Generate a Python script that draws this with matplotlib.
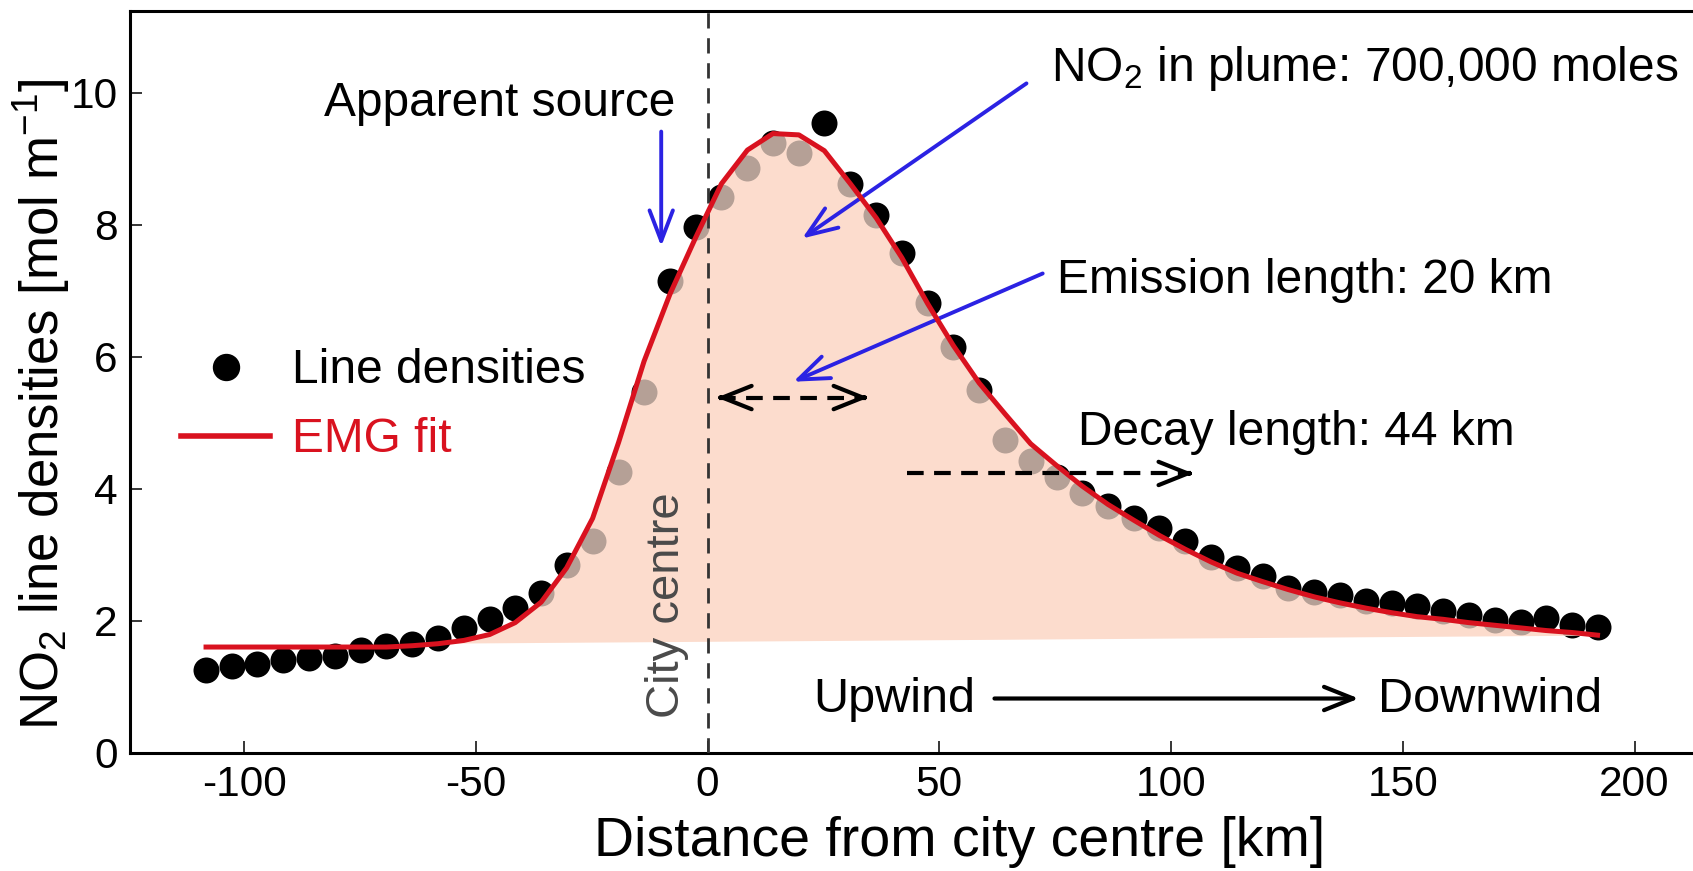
import numpy as np
import matplotlib
matplotlib.use('Agg')
import matplotlib.pyplot as plt
from matplotlib.lines import Line2D

plt.rcParams['font.family'] = ['Liberation Sans', 'DejaVu Sans']
plt.rcParams['mathtext.fontset'] = 'custom'
plt.rcParams['mathtext.rm'] = 'Liberation Sans'
plt.rcParams['mathtext.it'] = 'Liberation Sans:italic'
plt.rcParams['mathtext.bf'] = 'Liberation Sans:bold'

# distance along wind direction (km)
distance_km = [-108.2, -102.6, -97.1, -91.5, -86.0, -80.4, -74.8, -69.3, -63.7, -58.2,
               -52.6, -47.0, -41.5, -35.9, -30.4, -24.8, -19.2, -13.7, -8.1, -2.6,
               3.0, 8.6, 14.1, 19.7, 25.2, 30.8, 36.4, 41.9, 47.5, 53.0,
               58.6, 64.2, 69.7, 75.3, 80.8, 86.4, 92.0, 97.5, 103.1, 108.6,
               114.2, 119.8, 125.3, 130.9, 136.4, 142.0, 147.6, 153.1, 158.7, 164.2,
               169.8, 175.4, 180.9, 186.5, 192.0]

# observed NO2 line densities (mol/m)
line_density = [1.25, 1.31, 1.35, 1.41, 1.43, 1.46, 1.55, 1.62, 1.65, 1.73,
                1.89, 2.02, 2.19, 2.42, 2.85, 3.20, 4.25, 5.46, 7.14, 7.97,
                8.42, 8.86, 9.23, 9.08, 9.54, 8.62, 8.15, 7.57, 6.82, 6.14,
                5.50, 4.74, 4.42, 4.18, 3.93, 3.73, 3.55, 3.40, 3.20, 2.97,
                2.79, 2.68, 2.49, 2.44, 2.39, 2.29, 2.26, 2.22, 2.14, 2.09,
                2.01, 1.98, 2.04, 1.93, 1.90]

# EMG fit
emg_fit = [1.60, 1.60, 1.60, 1.60, 1.60, 1.60, 1.60, 1.60, 1.62, 1.65,
           1.70, 1.79, 1.97, 2.28, 2.80, 3.55, 4.70, 5.93, 6.95, 7.80,
           8.62, 9.13, 9.38, 9.36, 9.12, 8.62, 8.10, 7.50, 6.80, 6.17,
           5.60, 5.13, 4.68, 4.35, 4.04, 3.76, 3.52, 3.29, 3.08, 2.89,
           2.72, 2.59, 2.47, 2.36, 2.27, 2.19, 2.12, 2.06, 2.02, 1.97,
           1.93, 1.89, 1.85, 1.82, 1.78]

# linear background under the plume
background_km = [-55, 192]
background_val = [1.66, 1.78]

x_ticks = [-100, -50, 0, 50, 100, 150, 200]
y_ticks = [0, 2, 4, 6, 8, 10]

RED = '#d9121f'
BLUE = '#2b22e3'
PINK = '#fcdccd'
SHADOW = '#b5a096'

fig = plt.figure(figsize=(16.93, 8.71), dpi=100)
ax = fig.add_axes([0.0768, 0.1359, 0.9232, 0.8517])

x = np.array(distance_km)
fit = np.array(emg_fit)
base = np.interp(x, background_km, background_val)

ax.scatter(x, line_density, s=350, color='black', linewidths=0, zorder=2)
fill = ax.fill_between(x, base, fit, where=fit >= base, interpolate=True,
                       color=PINK, lw=0, zorder=3)
clip = max(fill.get_paths(), key=lambda p: len(p.vertices))
shadow = ax.scatter(x, line_density, s=350, color=SHADOW, linewidths=0, zorder=4)
shadow.set_clip_path(clip, ax.transData)
ax.plot(x, fit, color=RED, lw=3.6, zorder=6, solid_joinstyle='round')
ax.axvline(0, color='#333333', lw=2, dashes=(5.5, 3.5), zorder=5)

# legend
handles = [Line2D([], [], ls='none', marker='o', ms=18.7, color='black'),
           Line2D([], [], color=RED, lw=4)]
ax.legend(handles, ['Line densities', 'EMG fit'], loc='center left',
          bbox_to_anchor=(0.0326, 0.468), frameon=False, fontsize=34.5,
          handlelength=1.86, handletextpad=0.45, labelspacing=0.5,
          borderpad=0, borderaxespad=0, labelcolor=['black', RED])

# blue arrows
blue_head = '->,head_length=1.1,head_width=0.42'
blue_props = dict(arrowstyle=blue_head, color=BLUE, lw=2.8,
                  mutation_scale=20, shrinkA=0, shrinkB=0)
ax.annotate('', xy=(-10.0, 7.67), xytext=(-10.0, 9.41), arrowprops=blue_props)
ax.annotate('', xy=(20.4, 7.79), xytext=(68.8, 10.14), arrowprops=blue_props)
ax.annotate('', xy=(18.5, 5.62), xytext=(72.3, 7.26), arrowprops=blue_props)

black_head = '->,head_length=1.05,head_width=0.42'


def head(tip, towards):
    ax.annotate('', xy=tip, xytext=towards,
                arrowprops=dict(arrowstyle=black_head, color='black', lw=3,
                                mutation_scale=20, shrinkA=0, shrinkB=0),
                zorder=7)


# emission length double arrow
ax.plot([2.5, 34.2], [5.38, 5.38], color='black', lw=3, dashes=(4, 2.5), zorder=7)
head((2.0, 5.38), (3.0, 5.38))
head((34.7, 5.38), (33.7, 5.38))

# decay length arrow
ax.plot([43.0, 104.3], [4.23, 4.23], color='black', lw=3, dashes=(4, 2.5), zorder=7)
head((104.8, 4.23), (103.8, 4.23))

# wind direction
ax.annotate('', xy=(140.5, 0.82), xytext=(61.9, 0.82),
            arrowprops=dict(arrowstyle=black_head, color='black', lw=3,
                            mutation_scale=20, shrinkA=0, shrinkB=0))

ax.text(-82.7, 9.64, 'Apparent source', fontsize=34.5, va='baseline')
ax.text(74.0, 10.17, r'NO$_2$ in plume: 700,000 moles', fontsize=34.5, va='baseline')
ax.text(75.3, 6.96, 'Emission length: 20 km', fontsize=34.5, va='baseline')
ax.text(79.9, 4.66, 'Decay length: 44 km', fontsize=34.5, va='baseline')
ax.text(22.7, 0.62, 'Upwind', fontsize=35, va='baseline')
ax.text(144.6, 0.62, 'Downwind', fontsize=35, va='baseline')
ax.text(-8.8, 2.24, 'City centre', rotation=90, ha='center', va='center',
        color='#4a4a4a', fontsize=34, zorder=7)

ax.set_xlim(-124.6, 212.6)
ax.set_ylim(0, 11.24)
ax.set_xticks(x_ticks)
ax.set_xticklabels([str(t) for t in x_ticks])
ax.set_yticks(y_ticks)
ax.tick_params(direction='in', length=8.5, width=1.1, labelsize=30.5, pad=9,
               top=False, right=False)
for side in ['left', 'bottom', 'top']:
    ax.spines[side].set_linewidth(2.2)
ax.spines['right'].set_visible(False)

ax.set_xlabel('Distance from city centre [km]', fontsize=40)
ax.xaxis.set_label_coords(0.531, -0.085)
ax.set_ylabel(r'NO$_2$ line densities [mol m$^{\mathregular{-1}}$]', fontsize=38)
ax.yaxis.set_label_coords(-0.037, 0.469)

fig.savefig('out.png', dpi=100)
